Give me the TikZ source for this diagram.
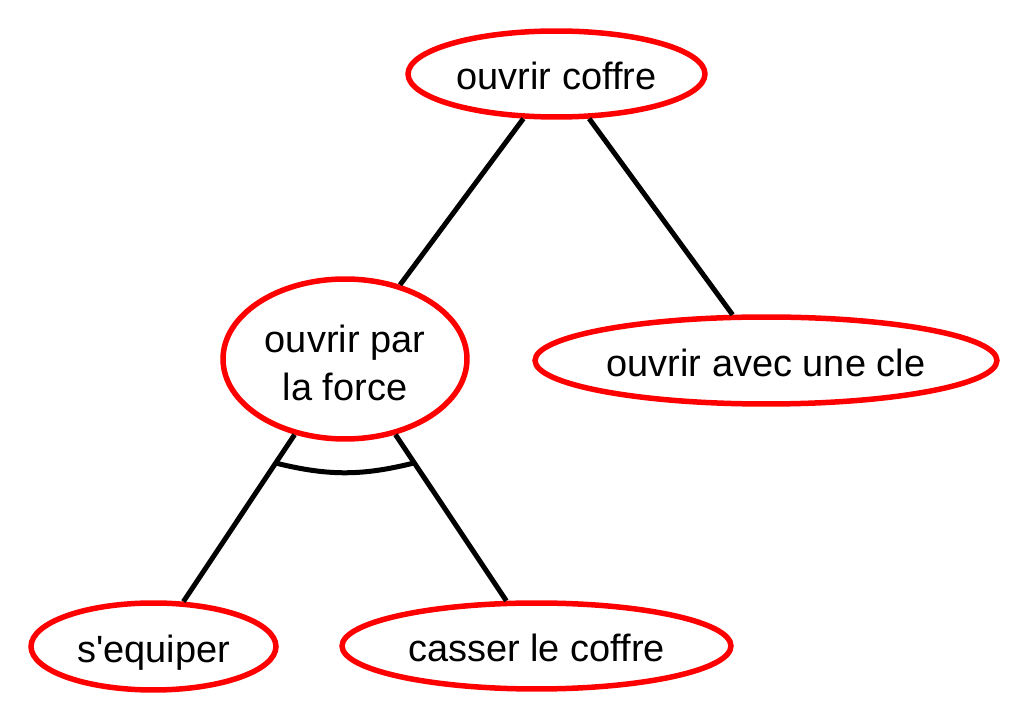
\documentclass[tikz,border=0pt]{standalone}
\usepackage{fontspec}
\setmainfont{Liberation Sans}
\usetikzlibrary{shapes.geometric}
\tikzset{
	goal tree/.style={
		x=0.02cm, y=0.02cm,
		every node/.style={font=\fontsize{21.6}{27.6}\selectfont},
		link/.style={draw, line width=0.1cm},
		},
	goal/.style 2 args={ellipse, draw=red, line width=0.11cm, inner sep=0pt,
		align=center, minimum width=#1, minimum height=#2,
		text height=0.64cm, text depth=0cm}
}

\begin{document}
\begin{tikzpicture}[goal tree]
      \useasboundingbox (0,0) rectangle (1036,727);
      \node[goal={5.94cm}{1.72cm}] (coffre) at (556.5,653) {ouvrir coffre};
      \node[goal={4.88cm}{3.20cm}, text height=1.67cm] (force) at (345,368) {ouvrir par\\la force};
      \node[goal={9.24cm}{1.74cm}] (cle) at (766,366.5) {ouvrir avec une cle};
      \node[goal={4.90cm}{1.74cm}] (equiper) at (153.5,80.5) {s\textquotesingle equiper};
      \node[goal={7.78cm}{1.72cm}] (casser) at (536.5,81) {casser le coffre};
      \draw[link] (coffre) -- (force);
      \draw[link] (coffre) -- (cle);
      \draw[link] (force) -- coordinate[pos=.17] (etL) (equiper);
      \draw[link] (force) -- coordinate[pos=.17] (etR) (casser);
      \draw[link] (etL) to[bend right=14] (etR); %AND
\end{tikzpicture}
\end{document}
